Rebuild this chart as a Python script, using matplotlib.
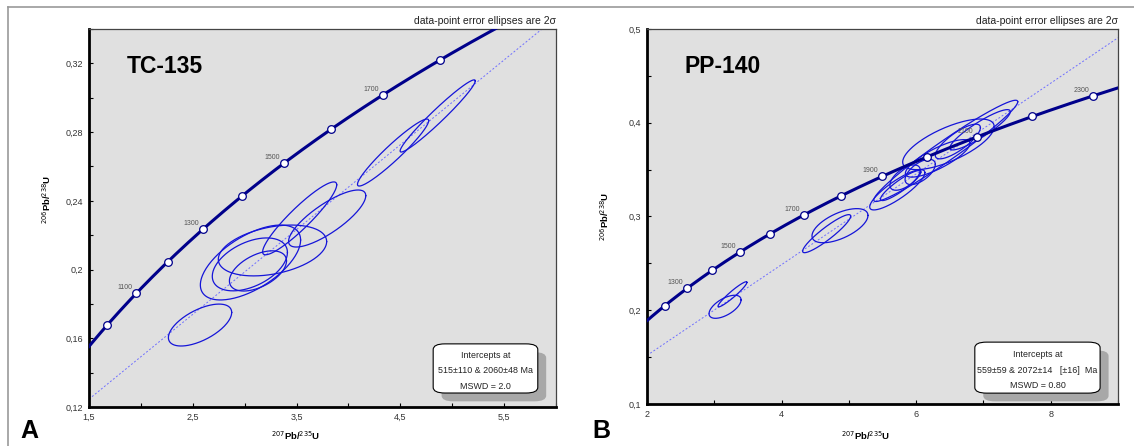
import numpy as np
import matplotlib.pyplot as plt
from matplotlib.patches import FancyBboxPatch
from matplotlib.lines import Line2D
from matplotlib.ticker import FuncFormatter, MultipleLocator

plt.rcParams['font.family'] = ['Liberation Sans', 'DejaVu Sans']

# decay constants (1/yr)
L235 = 9.8485e-10
L238 = 1.55125e-10

# concordia age marks (Ma)
ages_a = [1000, 1100, 1200, 1300, 1400, 1500, 1600, 1700, 1800]
ages_b = [1200, 1300, 1400, 1500, 1600, 1700, 1800, 1900, 2000, 2100, 2200, 2300]
labels_a = [1100, 1300, 1500, 1700]
labels_b = [1300, 1500, 1700, 1900, 2100, 2300]

# discordia intercepts (Ma)
intercepts_a = [515, 2060]
intercepts_b = [559, 2072]

# TC-135 ellipses: 207Pb/235U, 206Pb/238U, 2s errors, rho
a_x = [2.57, 3.53, 3.795, 3.056, 3.05, 3.268, 3.128, 4.86, 4.43]
a_y = [0.1677, 0.2298, 0.2297, 0.2041, 0.2030, 0.2111, 0.1992, 0.2894, 0.2681]
a_sx = [0.305, 0.357, 0.372, 0.483, 0.362, 0.522, 0.275, 0.362, 0.343]
a_sy = [0.0122, 0.0212, 0.0166, 0.0218, 0.0154, 0.0148, 0.0117, 0.0210, 0.0195]
a_rho = [0.6, 0.92, 0.8, 0.6, 0.45, 0.35, 0.5, 0.97, 0.95]

# PP-140 ellipses
b_x = [3.16, 3.27, 4.868, 4.67, 6.44, 6.48, 6.32, 5.72, 6.06, 5.835, 6.95, 6.62, 5.77]
b_y = [0.2037, 0.217, 0.2902, 0.2817, 0.370, 0.377, 0.362, 0.3285, 0.3475, 0.3415, 0.3925, 0.380, 0.333]
b_sx = [0.238, 0.215, 0.416, 0.357, 1.07, 0.68, 0.48, 0.41, 0.225, 0.225, 0.45, 0.335, 0.30]
b_sy = [0.0123, 0.0134, 0.0182, 0.0203, 0.054, 0.027, 0.020, 0.0215, 0.0135, 0.0135, 0.0215, 0.0185, 0.016]
b_rho = [0.6, 0.95, 0.6, 0.92, 0.97, 0.7, 0.8, 0.85, 0.6, 0.6, 0.9, 0.8, 0.9]


def conc(t_ma):
    t = np.asarray(t_ma, dtype=float) * 1e6
    return np.exp(L235 * t) - 1, np.exp(L238 * t) - 1


def comma(v, pos):
    s = ('%g' % round(v, 3))
    return s.replace('.', ',')


def panel(ax, xlim, ylim, xmaj, xmin, ymaj, ymin, ages, labels, icpt,
          ex, ey, esx, esy, erho, title, box_xy, box_txt):
    ax.set_facecolor('#e0e0e0')
    ax.set_xlim(*xlim)
    ax.set_ylim(*ylim)
    ax.xaxis.set_major_locator(MultipleLocator(xmaj))
    ax.xaxis.set_minor_locator(MultipleLocator(xmin))
    ax.yaxis.set_major_locator(MultipleLocator(ymaj))
    ax.yaxis.set_minor_locator(MultipleLocator(ymin))
    ax.xaxis.set_major_formatter(FuncFormatter(comma))
    ax.yaxis.set_major_formatter(FuncFormatter(comma))
    ax.tick_params(which='both', direction='in', length=3, width=0.8,
                   labelsize=6.5, labelcolor='#333333', pad=4)
    for s in ['left', 'bottom']:
        ax.spines[s].set_linewidth(2.0)
        ax.spines[s].set_color('black')
    for s in ['top', 'right']:
        ax.spines[s].set_linewidth(0.9)
        ax.spines[s].set_color('#444444')

    # discordia
    x1, y1 = conc(icpt[0])
    x2, y2 = conc(icpt[1])
    xs = np.array(xlim)
    ax.plot(xs, y1 + (xs - x1) * (y2 - y1) / (x2 - x1), color='#6f6fff',
            lw=0.7, ls=(0, (2, 2)), zorder=1)

    # ellipses
    th = np.linspace(0, 2 * np.pi, 200)
    for cx, cy, sx, sy, r in zip(ex, ey, esx, esy, erho):
        px = cx + sx * np.cos(th)
        py = cy + sy * (r * np.cos(th) + np.sqrt(1 - r * r) * np.sin(th))
        ax.plot(px, py, color='#1515d8', lw=0.9, zorder=2)

    # concordia
    tt = np.linspace(500, 2700, 500)
    cx_, cy_ = conc(tt)
    ax.plot(cx_, cy_, color='#00008b', lw=2.2, zorder=3)
    mx, my = conc(ages)
    ax.plot(mx, my, 'o', ms=5.5, mfc='white', mec='#00008b', mew=0.9, zorder=4)
    for a in labels:
        lx, ly = conc(a)
        ax.annotate(str(a), (lx, ly), xytext=(-3, 1.5), textcoords='offset points',
                    ha='right', va='bottom', fontsize=5, color='#555555', zorder=5)

    ax.text(0.08, 0.9, title, transform=ax.transAxes, fontsize=16.5,
            fontweight='bold', va='center', ha='left')
    ax.text(1.0, 1.02, 'data-point error ellipses are 2\u03c3', transform=ax.transAxes,
            fontsize=7.5, ha='right', va='center', color='#222222')

    bx0, by0, bx1, by1 = box_xy
    w = bx1 - bx0
    h = by1 - by0
    sh = FancyBboxPatch((bx0 + 0.018, by0 - 0.022), w, h, transform=ax.transAxes,
                        boxstyle='round,pad=0,rounding_size=0.025',
                        fc='#a8a8a8', ec='none', zorder=6, mutation_aspect=0.6)
    ax.add_patch(sh)
    bx = FancyBboxPatch((bx0, by0), w, h, transform=ax.transAxes,
                        boxstyle='round,pad=0,rounding_size=0.025',
                        fc='white', ec='black', lw=0.8, zorder=7, mutation_aspect=0.6)
    ax.add_patch(bx)
    for i, line in enumerate(box_txt):
        ax.text(bx0 + w / 2, by1 - h * (i + 0.75) / 3.2, line, transform=ax.transAxes,
                fontsize=6.4, ha='center', va='center', zorder=8, color='#222222')

    ax.set_xlabel(r'$^{207}$Pb/$^{235}$U', fontsize=6.8, fontweight='bold')
    ax.set_ylabel(r'$^{206}$Pb/$^{238}$U', fontsize=6.8, fontweight='bold')


fig = plt.figure(figsize=(11.34, 4.46), dpi=100)
ax1 = fig.add_axes([89 / 1134, 1 - 407 / 446, 467 / 1134, 378 / 446])
ax2 = fig.add_axes([647 / 1134, 1 - 404 / 446, 471 / 1134, 375 / 446])

panel(ax1, (1.5, 6.0), (0.12, 0.34), 1.0, 0.5, 0.04, 0.02, ages_a, labels_a,
      intercepts_a, a_x, a_y, a_sx, a_sy, a_rho, 'TC-135',
      (0.737, 0.037, 0.961, 0.167),
      ['Intercepts at', '515\u00b1110 & 2060\u00b148 Ma', 'MSWD = 2.0'])
ax1.xaxis.set_major_locator(plt.FixedLocator([1.5, 2.5, 3.5, 4.5, 5.5]))
ax1.xaxis.set_minor_locator(plt.FixedLocator([2, 3, 4, 5, 6]))

panel(ax2, (2, 9), (0.1, 0.5), 2, 1, 0.1, 0.05, ages_b, labels_b,
      intercepts_b, b_x, b_y, b_sx, b_sy, b_rho, 'PP-140',
      (0.696, 0.029, 0.962, 0.165),
      ['Intercepts at', '559\u00b159 & 2072\u00b114   [\u00b116]  Ma', 'MSWD = 0.80'])

ax1.xaxis.set_label_coords(0.443, -0.058)
ax1.yaxis.set_label_coords(-0.078, 0.55)
ax2.xaxis.set_label_coords(0.465, -0.068)
ax2.yaxis.set_label_coords(-0.077, 0.5)

fig.text(20 / 1134, 1 - 443 / 446, 'A', fontsize=18, fontweight='bold', va='bottom')
fig.text(592 / 1134, 1 - 443 / 446, 'B', fontsize=18, fontweight='bold', va='bottom')

# panel frames
fig.add_artist(Line2D([8 / 1134, 8 / 1134], [0, 1 - 7 / 446], color='#999999', lw=1.2))
fig.add_artist(Line2D([8 / 1134, 1], [1 - 7 / 446, 1 - 7 / 446], color='#999999', lw=1.2))

fig.savefig('out.png', dpi=100)
